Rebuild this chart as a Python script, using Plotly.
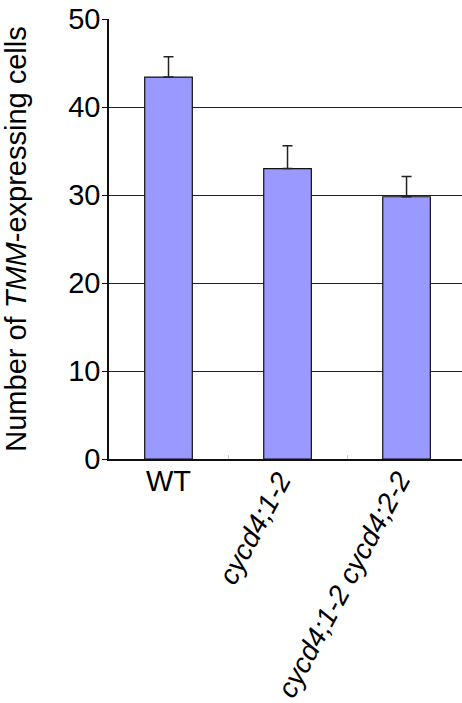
import plotly.graph_objects as go

categories = ["WT", "cycd4;1-2", "cycd4;1-2 cycd4;2-2"]
values = [43.4, 33.0, 29.8]
errors = [2.3, 2.6, 2.3]
y_ticks = [0, 10, 20, 30, 40, 50]

FONT = "Liberation Sans, Arial, Helvetica, sans-serif"

fig = go.Figure()
fig.add_trace(go.Bar(
    x=categories, y=values, width=0.40,
    marker=dict(color="#9999FF", line=dict(color="#111111", width=1.2)),
    error_y=dict(type="data", array=errors, arrayminus=[0] * len(errors),
                 color="#222222", thickness=1.5, width=5),
    showlegend=False,
))

# category labels
for i, c in enumerate(categories):
    if i == 0:
        fig.add_annotation(x=c, xref="x", y=0, yref="y", text=c,
                           showarrow=False, xanchor="center", yanchor="top",
                           yshift=-4, font=dict(family=FONT, size=29, color="black"))
    else:
        fig.add_annotation(x=c, xref="x", y=0, yref="y", text="<i>%s</i>" % c,
                           textangle=-62, showarrow=False, xanchor="right", yanchor="top",
                           xshift=13, yshift=-5, font=dict(family=FONT, size=28, color="black"))

fig.update_layout(
    width=462, height=703,
    margin=dict(l=109, r=0, t=19, b=244),
    paper_bgcolor="white", plot_bgcolor="white",
    font=dict(family=FONT, size=28, color="black"),
)
fig.update_xaxes(
    range=[-0.5, 2.466], showticklabels=False,
    showline=True, linecolor="#111111", linewidth=1.5,
    ticks="inside", tickson="boundaries", ticklen=4, tickcolor="#cccccc",
    showgrid=False, zeroline=False,
)
fig.update_yaxes(
    range=[0, 50], tickvals=y_ticks,
    showline=True, linecolor="#111111", linewidth=1.5,
    ticks="outside", ticklen=5, tickcolor="#111111", tickwidth=1.2,
    ticklabelstandoff=-4,
    showgrid=True, gridcolor="#222222", gridwidth=1.2,
    zeroline=False,
    tickfont=dict(family=FONT, size=29, color="black"),
    title=dict(text="Number of <i>TMM</i>-expressing cells",
               font=dict(family=FONT, size=29, color="black"), standoff=35),
)

fig.write_html("out.html", config={"displayModeBar": False},
               post_script="document.body.style.margin='0';")
